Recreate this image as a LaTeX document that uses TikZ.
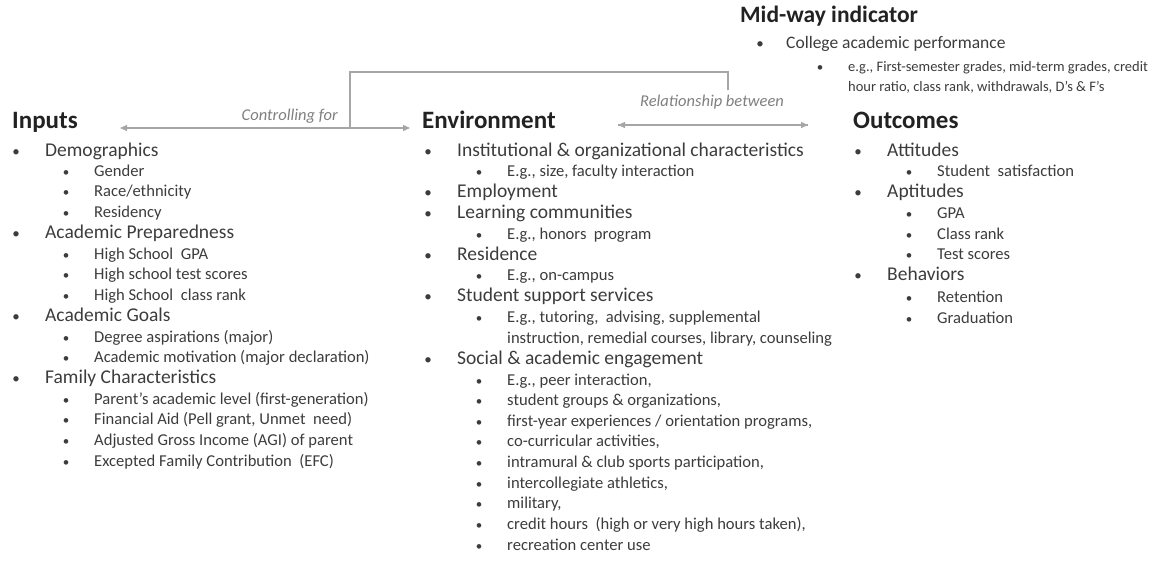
\documentclass[tikz,border=0pt]{standalone}
\usepackage{fontspec}
\setmainfont{Carlito}
\usetikzlibrary{arrows.meta}
\definecolor{txt}{HTML}{3C3C3C}
\definecolor{hd}{HTML}{222222}
\definecolor{ln}{HTML}{A6A6A6}
\definecolor{lbl}{HTML}{7F7F7F}
\newcommand\LOne[4]{\node[bulone] (#1b) at (#2,#3) {•};\node[lone] (#1) at (#2+29,#3) {#4};}
\newcommand\LTwo[4]{\node[bultwo] (#1b) at (#2,#3) {•};\node[ltwo] (#1) at (#2+28,#3) {#4};}
\begin{document}
\begin{tikzpicture}[x=1pt,y=-1pt,
  every node/.style={inner sep=0pt, text height=0.6em, text depth=0pt},
  head/.style={font=\fontsize{25}{28}\selectfont\bfseries, text=hd, anchor=west},
  lone/.style={font=\fontsize{19.5}{22}\selectfont, text=txt, anchor=west},
  ltwo/.style={font=\fontsize{16.6}{19}\selectfont, text=txt, anchor=west},
  mone/.style={lone, font=\fontsize{17.5}{20}\selectfont},
  mtwo/.style={ltwo, font=\fontsize{14.5}{17}\selectfont},
  bulone/.style={font=\fontsize{15}{17}\selectfont, text=txt, anchor=center},
  bultwo/.style={font=\fontsize{13}{15}\selectfont, text=txt, anchor=center},
  lab/.style={font=\fontsize{16.5}{19}\selectfont\itshape, text=lbl},
  conn/.style={draw=ln, line width=1.3pt},
  tip/.style={-{Triangle[length=7pt,width=6pt]}}]
\useasboundingbox (0,0) rectangle (1154,560);
% headings
\node[head] (inp) at (12,125) {Inputs};
\node[head] (env) at (422,125) {Environment};
\node[head] (out) at (853,125) {Outcomes};
\node[head, font=\fontsize{23.5}{26}\selectfont\bfseries] (mid) at (740,19) {Mid-way indicator};
% mid-way
\node[bulone] (m1b) at (760,45) {•};
\node[mone] (m1) at (786,45) {College academic performance};
\node[bultwo] (m2b) at (820,68) {•};
\node[mtwo] (m2) at (848,68) {e.g., First-semester grades, mid-term grades, credit};
\node[mtwo] (m2c) at (848,88) {hour ratio, class rank, withdrawals, D’s \& F’s};
% inputs
\LOne{i1}{16}{153}{Demographics}
\LTwo{i11}{66}{173}{Gender}
\LTwo{i12}{66}{193}{Race/ethnicity}
\LTwo{i13}{66}{214}{Residency}
\LOne{i2}{16}{235}{Academic Preparedness}
\LTwo{i21}{66}{256}{High School~ GPA}
\LTwo{i22}{66}{276}{High school test scores}
\LTwo{i23}{66}{297}{High School~ class rank}
\LOne{i3}{16}{318}{Academic Goals}
\LTwo{i31}{66}{339}{Degree aspirations (major)}
\LTwo{i32}{66}{359}{Academic motivation (major declaration)}
\LOne{i4}{16}{380}{Family Characteristics}
\LTwo{i41}{66}{401}{Parent’s academic level (first-generation)}
\LTwo{i42}{66}{421}{Financial Aid (Pell grant, Unmet~ need)}
\LTwo{i43}{66}{442}{Adjusted Gross Income (AGI) of parent}
\LTwo{i44}{66}{463}{Excepted Family Contribution~ (EFC)}
% environment
\LOne{e1}{428}{153}{Institutional \& organizational characteristics}
\LTwo{e11}{479}{173}{E.g., size, faculty interaction}
\LOne{e2}{428}{194}{Employment}
\LOne{e3}{428}{215}{Learning communities}
\LTwo{e31}{479}{236}{E.g., honors~ program}
\LOne{e4}{428}{257}{Residence}
\LTwo{e41}{479}{277}{E.g., on-campus}
\LOne{e5}{428}{298}{Student support services}
\LTwo{e51}{479}{319}{E.g., tutoring,~ advising, supplemental}
\node[ltwo] (e51c) at (507,340) {instruction, remedial courses, library, counseling};
\LOne{e6}{428}{361}{Social \& academic engagement}
\LTwo{e61}{479}{382}{E.g., peer interaction,}
\LTwo{e62}{479}{402}{student groups \& organizations,}
\LTwo{e63}{479}{423}{first-year experiences / orientation programs,}
\LTwo{e64}{479}{443}{co-curricular activities,}
\LTwo{e65}{479}{464}{intramural \& club sports participation,}
\LTwo{e66}{479}{485}{intercollegiate athletics,}
\LTwo{e67}{479}{505}{military,}
\LTwo{e68}{479}{526}{credit hours~ (high or very high hours taken),}
\LTwo{e69}{479}{547}{recreation center use}
% outcomes
\LOne{o1}{858}{153}{Attitudes}
\LTwo{o11}{909}{173}{Student~ satisfaction}
\LOne{o2}{858}{194}{Aptitudes}
\LTwo{o21}{909}{215}{GPA}
\LTwo{o22}{909}{236}{Class rank}
\LTwo{o23}{909}{256}{Test scores}
\LOne{o3}{858}{277}{Behaviors}
\LTwo{o31}{909}{299}{Retention}
\LTwo{o32}{909}{320}{Graduation}
% connectors
\coordinate (cl) at (120,128);
\coordinate (cj) at (350,128);
\coordinate (cr) at (410,128);
\coordinate (cm) at (728,90);
\coordinate (rl) at (618,125);
\coordinate (rr) at (808,125);
\draw[conn, tip] (cj) -- (cl);
\draw[conn, tip] (cj) -- (cr);
\draw[conn] (cm) -- ++(0,-18) -| (cj);
\draw[conn, tip] (rl) -- (rr);
\draw[conn, tip] (rr) -- (rl);
\node[lab, anchor=east] (lc) at (338,117) {Controlling for};
\node[lab] (lr) at (712,103) {Relationship between};
\end{tikzpicture}
\end{document}
